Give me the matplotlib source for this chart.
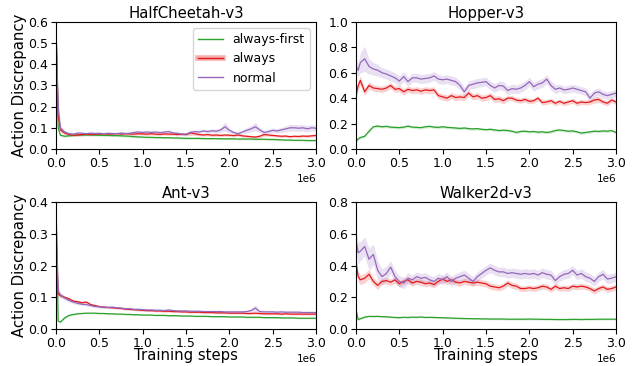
import matplotlib
matplotlib.use('Agg')

import matplotlib.pyplot as plt
from matplotlib.lines import Line2D
import numpy as np

# training steps (in millions): one early sample, then every 0.05M
steps_m = [0.0, 0.025, 0.05, 0.1, 0.15, 0.2, 0.25, 0.3, 0.35, 0.4, 0.45, 0.5,
           0.55, 0.6, 0.65, 0.7, 0.75, 0.8, 0.85, 0.9, 0.95, 1.0, 1.05, 1.1,
           1.15, 1.2, 1.25, 1.3, 1.35, 1.4, 1.45, 1.5, 1.55, 1.6, 1.65, 1.7,
           1.75, 1.8, 1.85, 1.9, 1.95, 2.0, 2.05, 2.1, 2.15, 2.2, 2.25, 2.3,
           2.35, 2.4, 2.45, 2.5, 2.55, 2.6, 2.65, 2.7, 2.75, 2.8, 2.85, 2.9,
           2.95, 3.0]

methods = ["always-first", "always", "normal"]
envs = ["HalfCheetah-v3", "Hopper-v3", "Ant-v3", "Walker2d-v3"]

# ---- HalfCheetah ----
hc_first = [0.60, 0.10, 0.065, 0.06, 0.062, 0.064, 0.065, 0.066, 0.066, 0.066, 0.065, 0.065,
            0.064, 0.064, 0.063, 0.063, 0.062, 0.061, 0.06, 0.058, 0.057, 0.056, 0.055, 0.055,
            0.054, 0.054, 0.053, 0.053, 0.052, 0.052, 0.051, 0.05, 0.05, 0.05, 0.05, 0.049,
            0.049, 0.049, 0.049, 0.048, 0.048, 0.048, 0.048, 0.047, 0.047, 0.047, 0.047, 0.046,
            0.046, 0.046, 0.045, 0.045, 0.044, 0.043, 0.042, 0.042, 0.041, 0.041, 0.041, 0.04,
            0.04, 0.04]
hc_always = [0.55, 0.16, 0.09, 0.075, 0.068, 0.065, 0.066, 0.068, 0.07, 0.068, 0.07, 0.07,
             0.072, 0.07, 0.071, 0.073, 0.07, 0.072, 0.071, 0.07, 0.072, 0.071, 0.07, 0.072,
             0.07, 0.069, 0.071, 0.07, 0.07, 0.068, 0.07, 0.068, 0.076, 0.072, 0.068, 0.066,
             0.068, 0.065, 0.066, 0.064, 0.066, 0.065, 0.063, 0.066, 0.062, 0.06, 0.058, 0.056,
             0.06, 0.068, 0.066, 0.064, 0.062, 0.06, 0.061, 0.058, 0.06, 0.059, 0.061, 0.06,
             0.062, 0.064]
hc_normal = [0.56, 0.20, 0.10, 0.08, 0.072, 0.07, 0.075, 0.074, 0.072, 0.075, 0.073, 0.074,
             0.072, 0.074, 0.073, 0.072, 0.075, 0.073, 0.074, 0.078, 0.08, 0.078, 0.08, 0.078,
             0.08, 0.077, 0.08, 0.082, 0.076, 0.074, 0.07, 0.07, 0.078, 0.082, 0.08, 0.085,
             0.082, 0.086, 0.084, 0.09, 0.105, 0.088, 0.078, 0.072, 0.08, 0.088, 0.095, 0.105,
             0.09, 0.078, 0.082, 0.088, 0.085, 0.09, 0.095, 0.1, 0.1, 0.098, 0.1, 0.095,
             0.1, 0.098]
hc_first_sd = [0.02, 0.01, 0.006, 0.005, 0.004, 0.004, 0.004, 0.004, 0.004, 0.004, 0.004, 0.004,
               0.004, 0.004, 0.004, 0.004, 0.004, 0.004, 0.004, 0.004, 0.004, 0.004, 0.004, 0.004,
               0.004, 0.004, 0.004, 0.004, 0.004, 0.004, 0.004, 0.004, 0.004, 0.004, 0.004, 0.004,
               0.004, 0.004, 0.004, 0.004, 0.004, 0.004, 0.004, 0.004, 0.004, 0.004, 0.004, 0.004,
               0.004, 0.004, 0.004, 0.004, 0.004, 0.004, 0.004, 0.004, 0.004, 0.004, 0.004, 0.004,
               0.004, 0.004]
hc_always_sd = [0.03, 0.015, 0.01, 0.008, 0.007, 0.006, 0.006, 0.006, 0.006, 0.006, 0.006, 0.006,
                0.006, 0.006, 0.006, 0.006, 0.006, 0.006, 0.006, 0.006, 0.006, 0.006, 0.006, 0.006,
                0.006, 0.006, 0.006, 0.006, 0.006, 0.006, 0.006, 0.007, 0.012, 0.008, 0.006, 0.006,
                0.006, 0.006, 0.006, 0.006, 0.006, 0.006, 0.006, 0.006, 0.006, 0.006, 0.006, 0.006,
                0.007, 0.008, 0.006, 0.006, 0.006, 0.006, 0.006, 0.006, 0.006, 0.006, 0.006, 0.006,
                0.006, 0.007]
hc_normal_sd = [0.03, 0.02, 0.012, 0.008, 0.007, 0.006, 0.006, 0.006, 0.006, 0.006, 0.006, 0.006,
                0.006, 0.006, 0.006, 0.006, 0.006, 0.006, 0.006, 0.007, 0.008, 0.007, 0.007, 0.007,
                0.007, 0.007, 0.007, 0.008, 0.007, 0.006, 0.006, 0.006, 0.007, 0.008, 0.008, 0.008,
                0.008, 0.009, 0.009, 0.012, 0.022, 0.012, 0.008, 0.008, 0.01, 0.012, 0.015, 0.02,
                0.012, 0.01, 0.01, 0.011, 0.011, 0.012, 0.014, 0.016, 0.016, 0.016, 0.016, 0.015,
                0.015, 0.014]

# ---- Hopper ----
hop_first = [0.06, 0.08, 0.09, 0.1, 0.14, 0.175, 0.18, 0.175, 0.178, 0.172, 0.17, 0.168,
             0.172, 0.18, 0.172, 0.17, 0.168, 0.175, 0.178, 0.172, 0.17, 0.175, 0.17, 0.168,
             0.165, 0.162, 0.165, 0.16, 0.158, 0.16, 0.155, 0.152, 0.155, 0.15, 0.145, 0.148,
             0.145, 0.14, 0.13, 0.138, 0.14, 0.135, 0.138, 0.132, 0.135, 0.13, 0.135, 0.145,
             0.15, 0.145, 0.14, 0.142, 0.135, 0.125, 0.13, 0.135, 0.14, 0.138, 0.142, 0.14,
             0.145, 0.13]
hop_always = [0.42, 0.50, 0.54, 0.45, 0.5, 0.48, 0.475, 0.47, 0.48, 0.5, 0.47, 0.475,
              0.45, 0.47, 0.46, 0.465, 0.455, 0.465, 0.46, 0.465, 0.42, 0.41, 0.4, 0.42,
              0.405, 0.41, 0.405, 0.44, 0.41, 0.42, 0.4, 0.405, 0.42, 0.39, 0.395, 0.38,
              0.4, 0.4, 0.385, 0.38, 0.39, 0.375, 0.38, 0.4, 0.365, 0.37, 0.38, 0.36,
              0.375, 0.36, 0.37, 0.38, 0.36, 0.37, 0.365, 0.37, 0.385, 0.39, 0.37, 0.36,
              0.385, 0.37]
hop_normal = [0.65, 0.62, 0.68, 0.71, 0.65, 0.63, 0.62, 0.6, 0.59, 0.575, 0.56, 0.535,
              0.57, 0.53, 0.56, 0.56, 0.55, 0.555, 0.56, 0.575, 0.55, 0.545, 0.55, 0.54,
              0.53, 0.5, 0.45, 0.5, 0.51, 0.52, 0.525, 0.53, 0.5, 0.48, 0.5, 0.495,
              0.46, 0.475, 0.47, 0.48, 0.5, 0.53, 0.49, 0.51, 0.52, 0.55, 0.5, 0.47,
              0.48, 0.465, 0.47, 0.48, 0.47, 0.46, 0.45, 0.4, 0.44, 0.45, 0.43, 0.42,
              0.43, 0.44]
hop_first_sd = [0.01, 0.01, 0.01, 0.01, 0.01, 0.01, 0.01, 0.01, 0.01, 0.01, 0.01, 0.01,
                0.01, 0.01, 0.01, 0.01, 0.01, 0.01, 0.01, 0.01, 0.01, 0.01, 0.01, 0.01,
                0.01, 0.01, 0.01, 0.01, 0.01, 0.01, 0.01, 0.01, 0.01, 0.01, 0.01, 0.01,
                0.01, 0.01, 0.01, 0.01, 0.01, 0.01, 0.01, 0.01, 0.01, 0.01, 0.01, 0.01,
                0.01, 0.01, 0.01, 0.01, 0.01, 0.01, 0.01, 0.01, 0.01, 0.01, 0.01, 0.01,
                0.01, 0.01]
hop_always_sd = [0.03, 0.035, 0.035, 0.03, 0.03, 0.025, 0.025, 0.025, 0.025, 0.025, 0.025, 0.025,
                 0.025, 0.025, 0.025, 0.025, 0.025, 0.025, 0.025, 0.025, 0.025, 0.025, 0.025, 0.025,
                 0.025, 0.025, 0.025, 0.025, 0.025, 0.025, 0.025, 0.025, 0.025, 0.025, 0.025, 0.025,
                 0.02, 0.02, 0.02, 0.02, 0.02, 0.02, 0.02, 0.02, 0.02, 0.02, 0.02, 0.02,
                 0.02, 0.02, 0.02, 0.02, 0.02, 0.02, 0.02, 0.02, 0.025, 0.025, 0.02, 0.02,
                 0.02, 0.02]
hop_normal_sd = [0.05, 0.05, 0.08, 0.1, 0.06, 0.05, 0.045, 0.04, 0.04, 0.04, 0.04, 0.04,
                 0.04, 0.035, 0.035, 0.035, 0.035, 0.035, 0.035, 0.035, 0.035, 0.035, 0.035, 0.035,
                 0.035, 0.035, 0.035, 0.035, 0.035, 0.035, 0.035, 0.035, 0.035, 0.035, 0.035, 0.035,
                 0.035, 0.035, 0.035, 0.035, 0.035, 0.035, 0.035, 0.035, 0.035, 0.035, 0.035, 0.035,
                 0.03, 0.03, 0.03, 0.03, 0.03, 0.03, 0.03, 0.035, 0.03, 0.03, 0.03, 0.03,
                 0.03, 0.03]

# ---- Ant ----
ant_first = [0.40, 0.025, 0.022, 0.035, 0.043, 0.046, 0.048, 0.049, 0.05, 0.05, 0.05, 0.049,
             0.049, 0.048, 0.048, 0.047, 0.047, 0.046, 0.046, 0.045, 0.045, 0.044, 0.044, 0.044,
             0.043, 0.043, 0.043, 0.042, 0.042, 0.042, 0.041, 0.041, 0.041, 0.04, 0.04, 0.04,
             0.04, 0.039, 0.039, 0.039, 0.039, 0.038, 0.038, 0.038, 0.038, 0.037, 0.037, 0.037,
             0.037, 0.036, 0.036, 0.036, 0.036, 0.035, 0.035, 0.035, 0.035, 0.034, 0.034, 0.034,
             0.034, 0.034]
ant_always = [0.30, 0.11, 0.105, 0.1, 0.095, 0.088, 0.086, 0.083, 0.085, 0.077, 0.074, 0.071,
              0.069, 0.068, 0.067, 0.066, 0.065, 0.063, 0.062, 0.061, 0.06, 0.059, 0.058, 0.058,
              0.057, 0.057, 0.056, 0.056, 0.055, 0.055, 0.054, 0.054, 0.053, 0.053, 0.053, 0.052,
              0.052, 0.052, 0.051, 0.051, 0.051, 0.05, 0.05, 0.05, 0.05, 0.049, 0.049, 0.05,
              0.049, 0.048, 0.048, 0.048, 0.048, 0.047, 0.048, 0.047, 0.047, 0.047, 0.047, 0.047,
              0.047, 0.047]
ant_normal = [0.35, 0.12, 0.108, 0.098, 0.09, 0.085, 0.081, 0.078, 0.077, 0.074, 0.071, 0.07,
              0.069, 0.068, 0.069, 0.067, 0.066, 0.064, 0.064, 0.062, 0.062, 0.061, 0.06, 0.06,
              0.059, 0.059, 0.058, 0.06, 0.058, 0.057, 0.057, 0.057, 0.056, 0.056, 0.056, 0.055,
              0.055, 0.055, 0.055, 0.055, 0.054, 0.054, 0.054, 0.054, 0.054, 0.055, 0.058, 0.066,
              0.055, 0.054, 0.054, 0.054, 0.053, 0.054, 0.053, 0.053, 0.053, 0.053, 0.052, 0.052,
              0.052, 0.052]
ant_first_sd = [0.01, 0.004, 0.003, 0.003, 0.003, 0.003, 0.002, 0.002, 0.002, 0.002, 0.002, 0.002,
                0.002, 0.002, 0.002, 0.002, 0.002, 0.002, 0.002, 0.002, 0.002, 0.002, 0.002, 0.002,
                0.002, 0.002, 0.002, 0.002, 0.002, 0.002, 0.002, 0.002, 0.002, 0.002, 0.002, 0.002,
                0.002, 0.002, 0.002, 0.002, 0.002, 0.002, 0.002, 0.002, 0.002, 0.002, 0.002, 0.002,
                0.002, 0.002, 0.002, 0.002, 0.002, 0.002, 0.002, 0.002, 0.002, 0.002, 0.002, 0.002,
                0.002, 0.002]
ant_always_sd = [0.02, 0.008, 0.006, 0.005, 0.005, 0.004, 0.004, 0.004, 0.004, 0.003, 0.003, 0.003,
                 0.003, 0.003, 0.003, 0.003, 0.003, 0.003, 0.003, 0.003, 0.003, 0.003, 0.003, 0.003,
                 0.003, 0.003, 0.003, 0.003, 0.003, 0.003, 0.003, 0.003, 0.003, 0.003, 0.003, 0.003,
                 0.003, 0.003, 0.003, 0.003, 0.003, 0.003, 0.003, 0.003, 0.003, 0.003, 0.003, 0.003,
                 0.003, 0.003, 0.003, 0.003, 0.003, 0.003, 0.003, 0.003, 0.003, 0.003, 0.003, 0.003,
                 0.003, 0.003]
ant_normal_sd = [0.02, 0.01, 0.008, 0.006, 0.005, 0.005, 0.005, 0.004, 0.004, 0.004, 0.004, 0.004,
                 0.004, 0.004, 0.004, 0.004, 0.004, 0.004, 0.004, 0.004, 0.004, 0.004, 0.004, 0.004,
                 0.004, 0.004, 0.004, 0.004, 0.004, 0.004, 0.004, 0.004, 0.004, 0.004, 0.004, 0.004,
                 0.004, 0.004, 0.004, 0.004, 0.004, 0.004, 0.004, 0.004, 0.004, 0.004, 0.006, 0.01,
                 0.005, 0.004, 0.004, 0.004, 0.004, 0.004, 0.004, 0.004, 0.004, 0.004, 0.004, 0.004,
                 0.004, 0.004]

# ---- Walker2d ----
wk_first = [0.12, 0.06, 0.065, 0.075, 0.08, 0.079, 0.08, 0.078, 0.077, 0.075, 0.073, 0.072,
            0.074, 0.073, 0.075, 0.074, 0.076, 0.073, 0.074, 0.073, 0.072, 0.071, 0.07, 0.069,
            0.068, 0.067, 0.066, 0.066, 0.065, 0.065, 0.064, 0.064, 0.063, 0.063, 0.063, 0.063,
            0.062, 0.062, 0.062, 0.062, 0.062, 0.063, 0.062, 0.062, 0.061, 0.061, 0.061, 0.06,
            0.06, 0.06, 0.06, 0.061, 0.061, 0.06, 0.061, 0.061, 0.061, 0.062, 0.062, 0.062,
            0.062, 0.062]
wk_always = [0.42, 0.33, 0.31, 0.32, 0.345, 0.3, 0.275, 0.3, 0.305, 0.295, 0.31, 0.285,
             0.3, 0.31, 0.29, 0.3, 0.295, 0.285, 0.29, 0.28, 0.3, 0.315, 0.3, 0.31,
             0.295, 0.29, 0.3, 0.295, 0.29, 0.295, 0.29, 0.285, 0.27, 0.265, 0.26, 0.27,
             0.29, 0.275, 0.27, 0.255, 0.255, 0.26, 0.255, 0.26, 0.27, 0.265, 0.25, 0.27,
             0.255, 0.26, 0.255, 0.27, 0.265, 0.27, 0.265, 0.255, 0.24, 0.255, 0.265, 0.25,
             0.255, 0.265]
wk_normal = [0.56, 0.48, 0.49, 0.52, 0.44, 0.47, 0.37, 0.33, 0.35, 0.39, 0.33, 0.3,
             0.29, 0.32, 0.31, 0.33, 0.32, 0.325, 0.31, 0.3, 0.32, 0.31, 0.33, 0.3,
             0.32, 0.33, 0.34, 0.32, 0.3, 0.33, 0.35, 0.37, 0.385, 0.37, 0.36, 0.36,
             0.35, 0.355, 0.35, 0.345, 0.35, 0.345, 0.35, 0.34, 0.355, 0.345, 0.34, 0.305,
             0.33, 0.345, 0.35, 0.37, 0.34, 0.35, 0.33, 0.32, 0.3, 0.33, 0.345, 0.315,
             0.32, 0.33]
wk_first_sd = [0.02, 0.008, 0.005, 0.005, 0.005, 0.005, 0.005, 0.005, 0.005, 0.005, 0.005, 0.005,
               0.005, 0.005, 0.005, 0.005, 0.005, 0.005, 0.005, 0.005, 0.005, 0.005, 0.005, 0.005,
               0.005, 0.005, 0.005, 0.005, 0.005, 0.005, 0.005, 0.005, 0.005, 0.005, 0.005, 0.005,
               0.005, 0.005, 0.005, 0.005, 0.005, 0.005, 0.005, 0.005, 0.005, 0.005, 0.005, 0.005,
               0.005, 0.005, 0.005, 0.005, 0.005, 0.005, 0.005, 0.005, 0.005, 0.005, 0.005, 0.005,
               0.005, 0.005]
wk_always_sd = [0.04, 0.035, 0.03, 0.03, 0.03, 0.025, 0.025, 0.02, 0.02, 0.02, 0.02, 0.02,
                0.02, 0.02, 0.02, 0.02, 0.02, 0.02, 0.02, 0.02, 0.02, 0.02, 0.02, 0.02,
                0.02, 0.02, 0.02, 0.02, 0.02, 0.02, 0.02, 0.02, 0.02, 0.02, 0.02, 0.02,
                0.02, 0.02, 0.02, 0.018, 0.018, 0.018, 0.018, 0.018, 0.018, 0.018, 0.018, 0.018,
                0.018, 0.018, 0.018, 0.018, 0.018, 0.018, 0.018, 0.018, 0.02, 0.018, 0.018, 0.018,
                0.018, 0.018]
wk_normal_sd = [0.06, 0.07, 0.06, 0.06, 0.07, 0.065, 0.06, 0.05, 0.045, 0.04, 0.04, 0.035,
                0.035, 0.035, 0.03, 0.03, 0.03, 0.03, 0.03, 0.03, 0.03, 0.03, 0.03, 0.03,
                0.03, 0.03, 0.03, 0.03, 0.03, 0.03, 0.03, 0.03, 0.03, 0.03, 0.03, 0.03,
                0.03, 0.03, 0.03, 0.03, 0.03, 0.03, 0.03, 0.03, 0.03, 0.03, 0.03, 0.03,
                0.03, 0.03, 0.03, 0.03, 0.03, 0.03, 0.03, 0.03, 0.03, 0.03, 0.03, 0.03,
                0.03, 0.03]

ylims = [0.6, 1.0, 0.4, 0.8]
yticks = [[0.0, 0.1, 0.2, 0.3, 0.4, 0.5, 0.6],
          [0.0, 0.2, 0.4, 0.6, 0.8, 1.0],
          [0.0, 0.1, 0.2, 0.3, 0.4],
          [0.0, 0.2, 0.4, 0.6, 0.8]]
xticks_m = [0.0, 0.5, 1.0, 1.5, 2.0, 2.5, 3.0]

means = [[hc_first, hc_always, hc_normal],
         [hop_first, hop_always, hop_normal],
         [ant_first, ant_always, ant_normal],
         [wk_first, wk_always, wk_normal]]
sds = [[hc_first_sd, hc_always_sd, hc_normal_sd],
       [hop_first_sd, hop_always_sd, hop_normal_sd],
       [ant_first_sd, ant_always_sd, ant_normal_sd],
       [wk_first_sd, wk_always_sd, wk_normal_sd]]

renkler = ['#2ca02c', '#e41a1c', '#9467bd']

x = np.array(steps_m) * 1e6

fig = plt.figure(figsize=(6.41, 3.66), dpi=100)
# manual axes positions to match the 2x2 grid
konumlar = [[0.0874, 0.593, 0.4056, 0.347],
            [0.5554, 0.593, 0.4056, 0.347],
            [0.0874, 0.101, 0.4056, 0.347],
            [0.5554, 0.101, 0.4056, 0.347]]

for i, env in enumerate(envs):
    ax = fig.add_axes(konumlar[i])
    for j, m in enumerate(methods):
        y = np.array(means[i][j])
        s = np.array(sds[i][j])
        ax.fill_between(x, y - s, y + s, color=renkler[j], alpha=0.2, linewidth=0)
        ax.plot(x, y, color=renkler[j], linewidth=0.9, label=m)
    ax.set_xlim(0, 3e6)
    ax.set_ylim(0, ylims[i])
    ax.set_yticks(yticks[i])
    ax.set_xticks([v * 1e6 for v in xticks_m])
    ax.tick_params(labelsize=9, pad=2)
    ax.xaxis.get_offset_text().set_fontsize(7.5)
    ax.set_title(env, fontsize=10.7, pad=3)
    if i % 2 == 0:
        ax.set_ylabel('Action Discrepancy', fontsize=10.7, labelpad=1)
    if i >= 2:
        ax.set_xlabel('Training steps', fontsize=10.7, labelpad=-1)
    if i == 0:
        handles = [Line2D([], [], color=renkler[0], linewidth=1.0),
                   (Line2D([], [], color=renkler[1], alpha=0.35, linewidth=4),
                    Line2D([], [], color=renkler[1], linewidth=1.0)),
                   Line2D([], [], color=renkler[2], linewidth=1.0)]
        ax.legend(handles, methods, loc='upper right', fontsize=9)

plt.savefig('out.png', dpi=100)
